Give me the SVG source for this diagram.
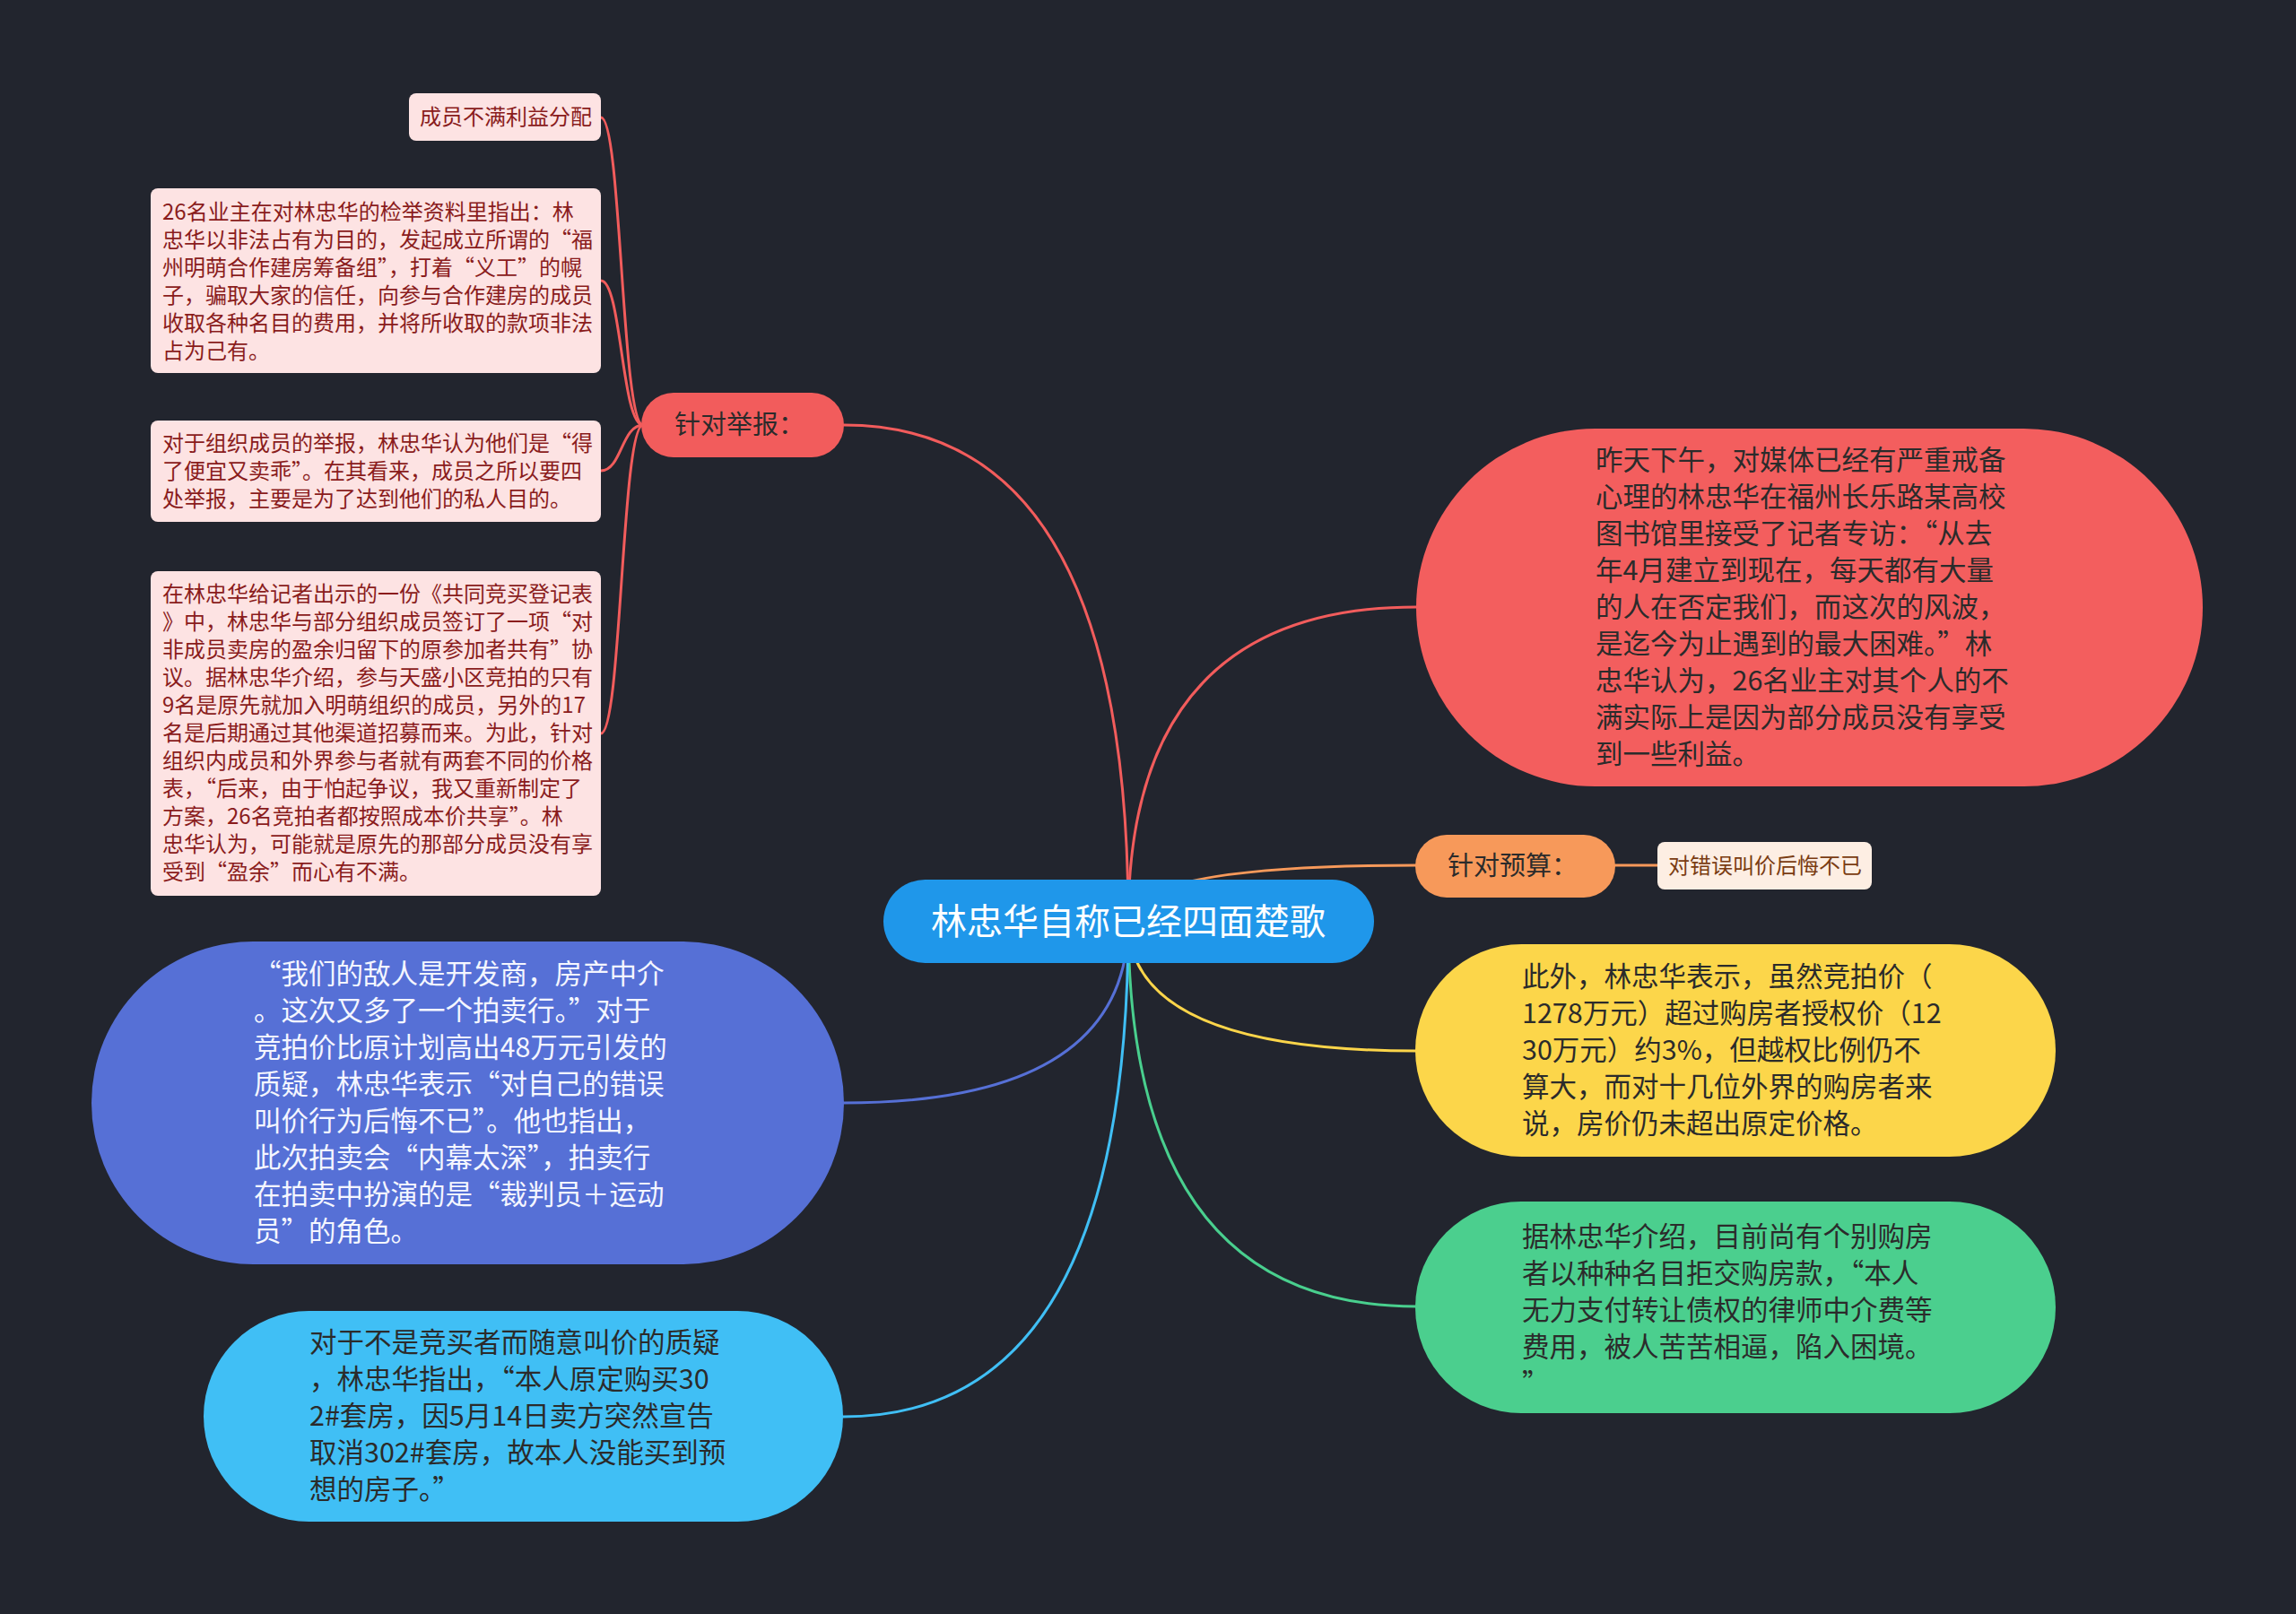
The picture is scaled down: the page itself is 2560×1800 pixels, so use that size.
<svg xmlns="http://www.w3.org/2000/svg" width="2560" height="1800" viewBox="0 0 2560 1800">
<style>
text{font-family:"Noto Sans CJK SC","Noto Sans",sans-serif;dominant-baseline:central;transform:translateY(-3px)}
.ln{fill:none;stroke-width:3;stroke-linecap:round}
.sub{font-size:24px}
.big{font-size:30.5px}
.dark{fill:#2b2b2b}
</style>
<rect width="2560" height="1800" fill="#22252e"/>
<g id="connectors">
<path class="ln" stroke="#f25c5c" d="M1258 1027 Q1258 474 941 474"/>
<path class="ln" stroke="#f25c5c" d="M1258 1027 Q1258 677 1579 677"/>
<path class="ln" stroke="#f7995a" d="M1258 1027 Q1258 965 1579 965"/>
<path class="ln" stroke="#fcd54a" d="M1258 1027 Q1258 1172 1579 1172"/>
<path class="ln" stroke="#49cf8e" d="M1258 1027 Q1258 1457 1579 1457"/>
<path class="ln" stroke="#5670d6" d="M1258 1027 Q1258 1230 940 1230"/>
<path class="ln" stroke="#40bff5" d="M1258 1027 Q1258 1580 940 1580"/>
<path class="ln" stroke="#f7995a" d="M1801 965 L1848 965"/>
<path class="ln" stroke="#f25c5c" stroke-width="2.5" d="M717 474 C693 474 693 131 670 131"/>
<path class="ln" stroke="#f25c5c" stroke-width="2.5" d="M717 474 C693 474 693 313 670 313"/>
<path class="ln" stroke="#f25c5c" stroke-width="2.5" d="M717 474 C693 474 693 525 670 525"/>
<path class="ln" stroke="#f25c5c" stroke-width="2.5" d="M717 474 C693 474 693 818 670 818"/>
</g>
<g id="root">
<rect x="985" y="981" width="547" height="93" rx="46.5" fill="#1f97ea"/>
<text x="1258" y="1028" font-size="40" fill="#ffffff" text-anchor="middle">林忠华自称已经四面楚歌</text>
</g>
<g id="n-jubao">
<rect x="715" y="438" width="226" height="72" rx="36" fill="#f25c5c"/>
<text x="752" y="474" font-size="29" class="dark">针对举报：</text>
</g>
<g id="n-a">
<rect x="456" y="104" width="214" height="53" rx="8" fill="#fde3e3"/>
<text x="468" y="131" class="sub" fill="#8a1c1c">成员不满利益分配</text>
</g>
<g id="n-b">
<rect x="168" y="210" width="502" height="206" rx="8" fill="#fde3e3"/>
<text class="sub" fill="#8a1c1c">
<tspan x="181" y="237">26名业主在对林忠华的检举资料里指出：林</tspan>
<tspan x="181" y="268">忠华以非法占有为目的，发起成立所谓的“福</tspan>
<tspan x="181" y="299">州明萌合作建房筹备组”，打着“义工”的幌</tspan>
<tspan x="181" y="330">子，骗取大家的信任，向参与合作建房的成员</tspan>
<tspan x="181" y="361">收取各种名目的费用，并将所收取的款项非法</tspan>
<tspan x="181" y="392">占为己有。</tspan>
</text>
</g>
<g id="n-c">
<rect x="168" y="469" width="502" height="113" rx="8" fill="#fde3e3"/>
<text class="sub" fill="#8a1c1c">
<tspan x="181" y="495">对于组织成员的举报，林忠华认为他们是“得</tspan>
<tspan x="181" y="526">了便宜又卖乖”。在其看来，成员之所以要四</tspan>
<tspan x="181" y="557">处举报，主要是为了达到他们的私人目的。</tspan>
</text>
</g>
<g id="n-d">
<rect x="168" y="637" width="502" height="362" rx="8" fill="#fde3e3"/>
<text class="sub" fill="#8a1c1c">
<tspan x="181" y="663">在林忠华给记者出示的一份《共同竞买登记表</tspan>
<tspan x="181" y="694">》中，林忠华与部分组织成员签订了一项“对</tspan>
<tspan x="181" y="725">非成员卖房的盈余归留下的原参加者共有”协</tspan>
<tspan x="181" y="756">议。据林忠华介绍，参与天盛小区竞拍的只有</tspan>
<tspan x="181" y="787">9名是原先就加入明萌组织的成员，另外的17</tspan>
<tspan x="181" y="818">名是后期通过其他渠道招募而来。为此，针对</tspan>
<tspan x="181" y="849">组织内成员和外界参与者就有两套不同的价格</tspan>
<tspan x="181" y="880">表，“后来，由于怕起争议，我又重新制定了</tspan>
<tspan x="181" y="911">方案，26名竞拍者都按照成本价共享”。林</tspan>
<tspan x="181" y="942">忠华认为，可能就是原先的那部分成员没有享</tspan>
<tspan x="181" y="973">受到“盈余”而心有不满。</tspan>
</text>
</g>
<g id="n-red">
<rect x="1579" y="478" width="877" height="399" rx="199.5" fill="#f35e5e"/>
<text class="big dark">
<tspan x="1779" y="514">昨天下午，对媒体已经有严重戒备</tspan>
<tspan x="1779" y="555">心理的林忠华在福州长乐路某高校</tspan>
<tspan x="1779" y="596">图书馆里接受了记者专访：“从去</tspan>
<tspan x="1779" y="637">年4月建立到现在，每天都有大量</tspan>
<tspan x="1779" y="678">的人在否定我们，而这次的风波，</tspan>
<tspan x="1779" y="719">是迄今为止遇到的最大困难。”林</tspan>
<tspan x="1779" y="760">忠华认为，26名业主对其个人的不</tspan>
<tspan x="1779" y="801">满实际上是因为部分成员没有享受</tspan>
<tspan x="1779" y="842">到一些利益。</tspan>
</text>
</g>
<g id="n-yusuan">
<rect x="1578" y="931" width="223" height="70" rx="35" fill="#f7995a"/>
<text x="1614" y="966" font-size="29" class="dark">针对预算：</text>
</g>
<g id="n-yusuan-a">
<rect x="1848" y="939" width="239" height="53" rx="8" fill="#fdeee3"/>
<text x="1860" y="966" class="sub" fill="#7a3c12">对错误叫价后悔不已</text>
</g>
<g id="n-yellow">
<rect x="1578" y="1053" width="714" height="237" rx="118.5" fill="#fcd64a"/>
<text class="big dark">
<tspan x="1697" y="1090">此外，林忠华表示，虽然竞拍价（</tspan>
<tspan x="1697" y="1131">1278万元）超过购房者授权价（12</tspan>
<tspan x="1697" y="1172">30万元）约3%，但越权比例仍不</tspan>
<tspan x="1697" y="1213">算大，而对十几位外界的购房者来</tspan>
<tspan x="1697" y="1254">说，房价仍未超出原定价格。</tspan>
</text>
</g>
<g id="n-green">
<rect x="1578" y="1340" width="714" height="236" rx="118" fill="#4bcf8e"/>
<text class="big dark">
<tspan x="1697" y="1380">据林忠华介绍，目前尚有个别购房</tspan>
<tspan x="1697" y="1421">者以种种名目拒交购房款，“本人</tspan>
<tspan x="1697" y="1462">无力支付转让债权的律师中介费等</tspan>
<tspan x="1697" y="1503">费用，被人苦苦相逼，陷入困境。</tspan>
<tspan x="1697" y="1544">”</tspan>
</text>
</g>
<g id="n-indigo">
<rect x="102" y="1050" width="839" height="360" rx="180" fill="#5670d6"/>
<text class="big" fill="#f4f6ff">
<tspan x="283" y="1087">“我们的敌人是开发商，房产中介</tspan>
<tspan x="283" y="1128">。这次又多了一个拍卖行。”对于</tspan>
<tspan x="283" y="1169">竞拍价比原计划高出48万元引发的</tspan>
<tspan x="283" y="1210">质疑，林忠华表示“对自己的错误</tspan>
<tspan x="283" y="1251">叫价行为后悔不已”。他也指出，</tspan>
<tspan x="283" y="1292">此次拍卖会“内幕太深”，拍卖行</tspan>
<tspan x="283" y="1333">在拍卖中扮演的是“裁判员＋运动</tspan>
<tspan x="283" y="1374">员”的角色。</tspan>
</text>
</g>
<g id="n-cyan">
<rect x="227" y="1462" width="713" height="235" rx="117.5" fill="#40bff5"/>
<text class="big dark">
<tspan x="345" y="1498">对于不是竞买者而随意叫价的质疑</tspan>
<tspan x="345" y="1539">，林忠华指出，“本人原定购买30</tspan>
<tspan x="345" y="1580">2#套房，因5月14日卖方突然宣告</tspan>
<tspan x="345" y="1621">取消302#套房，故本人没能买到预</tspan>
<tspan x="345" y="1662">想的房子。”</tspan>
</text>
</g>
</svg>
